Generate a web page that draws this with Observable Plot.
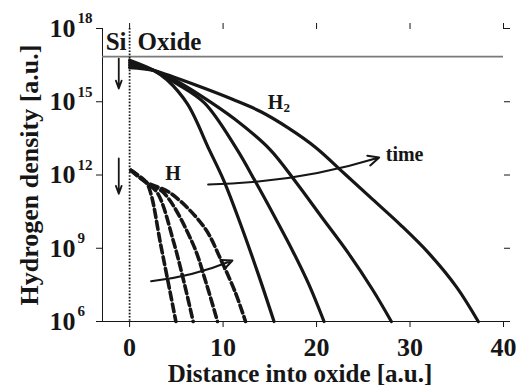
<!DOCTYPE html>
<html><head><meta charset="utf-8">
<script src="https://cdn.jsdelivr.net/npm/d3@7"></script>
<script src="https://cdn.jsdelivr.net/npm/@observablehq/plot@0.6"></script>
<style>body{margin:0;background:#fff}</style>
</head><body><div id="chart"></div>
<script>
// ---- data (x in a.u., y as log10 of hydrogen density) ----
const xTicks = [0, 10, 20, 30, 40];
const yTickExps = [6, 9, 12, 15, 18];

// H2 profiles (solid), increasing time
const h2X1 = [0, 2.6, 4, 6.2, 8.5, 10.1, 12, 13.8, 15.45];
const h2E1 = [16.7, 16.28, 15.9, 14.9, 13.05, 11.75, 9.85, 7.9, 6.0];
const h2X2 = [0, 2.6, 5, 8, 11.4, 13.5, 15.5, 17.5, 19.2, 20.8];
const h2E2 = [16.6, 16.28, 15.75, 14.95, 13.1, 11.7, 10.3, 8.85, 7.5, 6.0];
const h2X3 = [0, 2.6, 5, 7.6, 11.2, 15, 17.8, 20.5, 23.4, 26, 28];
const h2E3 = [16.5, 16.28, 15.85, 15.25, 14.3, 13.05, 11.7, 10.3, 8.8, 7.3, 6.0];
const h2X4 = [0, 2.6, 5, 8, 11, 14, 17, 20, 23, 26, 29, 32, 35, 37.3];
const h2E4 = [16.4, 16.28, 15.97, 15.55, 15.1, 14.6, 13.92, 13.1, 12.05, 11.0, 9.95, 8.8, 7.4, 6.0];

// H profiles (dashed), increasing time
const hX1 = [0.15, 1.75, 2.3, 3.3, 4.15, 4.95];
const hE1 = [12.19, 11.71, 11.2, 9.2, 7.56, 6.0];
const hX2 = [0.15, 1.75, 3.0, 4.75, 5.85, 6.8];
const hE2 = [12.19, 11.71, 11.25, 9.2, 7.56, 6.0];
const hX3 = [0.15, 1.75, 3.7, 6.75, 8.2, 9.4];
const hE3 = [12.19, 11.71, 11.25, 9.2, 7.56, 6.0];
const hX4 = [0.15, 1.75, 4.4, 8.0, 9.8, 11.3, 12.4];
const hE4 = [12.19, 11.71, 11.25, 9.85, 8.5, 7.2, 6.0];

// "time" arrows
const timeX1 = [8.4, 2.3];
const timeE1 = [11.61, 7.65];
const timeX2 = [26.7, 11.0];
const timeE2 = [12.72, 8.5];

// downward arrows at the Si side
const downX = [-1.16, -1.16];
const downE1 = [16.77, 12.68];
const downE2 = [15.54, 11.23];

// Si/oxide header separator
const headerExp = 16.85;

// ---- build tables ----
const ink = "#161616";
const toRows = (name, xs, es) => xs.map((x, i) => ({name, x, y: 10 ** es[i]}));
const h2Rows = [
  ...toRows("H2 t1", h2X1, h2E1), ...toRows("H2 t2", h2X2, h2E2),
  ...toRows("H2 t3", h2X3, h2E3), ...toRows("H2 t4", h2X4, h2E4)
];
const hRows = [
  ...toRows("H t1", hX1, hE1), ...toRows("H t2", hX2, hE2),
  ...toRows("H t3", hX3, hE3), ...toRows("H t4", hX4, hE4)
];
const timeArrows = timeX1.map((x, i) => ({x1: x, y1: 10 ** timeE1[i], x2: timeX2[i], y2: 10 ** timeE2[i]}));
const downArrows = downX.map((x, i) => ({x1: x, y1: 10 ** downE1[i], x2: x, y2: 10 ** downE2[i]}));

const serif = "'Liberation Serif', 'Times New Roman', Times, serif";

const plot = Plot.plot({
  width: 521, height: 389,
  marginLeft: 102, marginRight: 18, marginTop: 28, marginBottom: 68,
  style: {fontFamily: serif, fontWeight: "bold", background: "#fff", color: ink, overflow: "visible"},
  x: {domain: [-2.9, 40], ticks: xTicks, tickSize: 6, tickFormat: () => "", axis: "both", line: true, label: null},
  y: {type: "log", domain: [1e6, 1e18], ticks: yTickExps.map(e => 10 ** e), tickSize: 6, tickFormat: () => "", axis: "both", line: true, label: null},
  marks: [
    Plot.ruleY([10 ** headerExp], {stroke: "#7a7a7a", strokeWidth: 1.6}),
    Plot.ruleX([0], {stroke: ink, strokeWidth: 1.8, strokeDasharray: "1.6,1.6"}),
    Plot.line(h2Rows, {x: "x", y: "y", z: "name", stroke: ink, strokeWidth: 3.2, curve: "catmull-rom"}),
    Plot.line(hRows, {x: "x", y: "y", z: "name", stroke: ink, strokeWidth: 3.6, strokeDasharray: "8,4", curve: "catmull-rom"}),
    Plot.arrow(timeArrows, {x1: "x1", y1: "y1", x2: "x2", y2: "y2", bend: -8, stroke: ink, strokeWidth: 2, headLength: 9, headAngle: 50}),
    Plot.arrow(downArrows, {x1: "x1", y1: "y1", x2: "x2", y2: "y2", stroke: ink, strokeWidth: 1.8, headLength: 7, headAngle: 40}),
    // y tick labels 10^n
    Plot.text(yTickExps, {frameAnchor: "left", y: e => 10 ** e, text: () => "10", textAnchor: "start", lineAnchor: "middle", dx: -53, fontSize: 26, fontWeight: "bold", fill: ink}),
    Plot.text(yTickExps, {frameAnchor: "left", y: e => 10 ** e, text: e => String(e), textAnchor: "start", lineAnchor: "middle", dx: -25, dy: -10, fontSize: 15, fontWeight: "bold", fill: ink}),
    // x tick labels
    Plot.text(xTicks, {x: d => d, frameAnchor: "bottom", dy: 26, text: d => String(d), textAnchor: "middle", lineAnchor: "middle", fontSize: 26, fontWeight: "bold", fill: ink}),
    // axis titles
    Plot.text(["Distance into oxide [a.u.]"], {frameAnchor: "bottom", dy: 52, dx: -3, textAnchor: "middle", lineAnchor: "middle", fontSize: 25, fontWeight: "bold", fill: ink}),
    Plot.text(["Hydrogen density [a.u.]"], {frameAnchor: "left", dx: -73, rotate: -90, textAnchor: "middle", lineAnchor: "middle", fontSize: 26, fontWeight: "bold", fill: ink}),
    // annotations
    Plot.text(["Si"], {x: -0.33, y: 10 ** 17.45, textAnchor: "end", fontSize: 25, fontWeight: "bold", fill: ink}),
    Plot.text(["Oxide"], {x: 0.85, y: 10 ** 17.45, textAnchor: "start", fontSize: 25, fontWeight: "bold", fill: ink}),
    Plot.text(["H"], {x: 4.64, y: 10 ** 12.04, fontSize: 20, fontWeight: "bold", fill: ink}),
    Plot.text(["H"], {x: 15.6, y: 10 ** 14.98, fontSize: 20, fontWeight: "bold", fill: ink}),
    Plot.text(["2"], {x: 15.6, y: 10 ** 14.98, dx: 8, dy: 6, textAnchor: "start", fontSize: 13, fontWeight: "bold", fill: ink}),
    Plot.text(["time"], {x: 27.4, y: 10 ** 12.84, textAnchor: "start", fontSize: 20, fontWeight: "bold", fill: ink})
  ]
});
document.getElementById("chart").appendChild(plot);
</script>
</body></html>
